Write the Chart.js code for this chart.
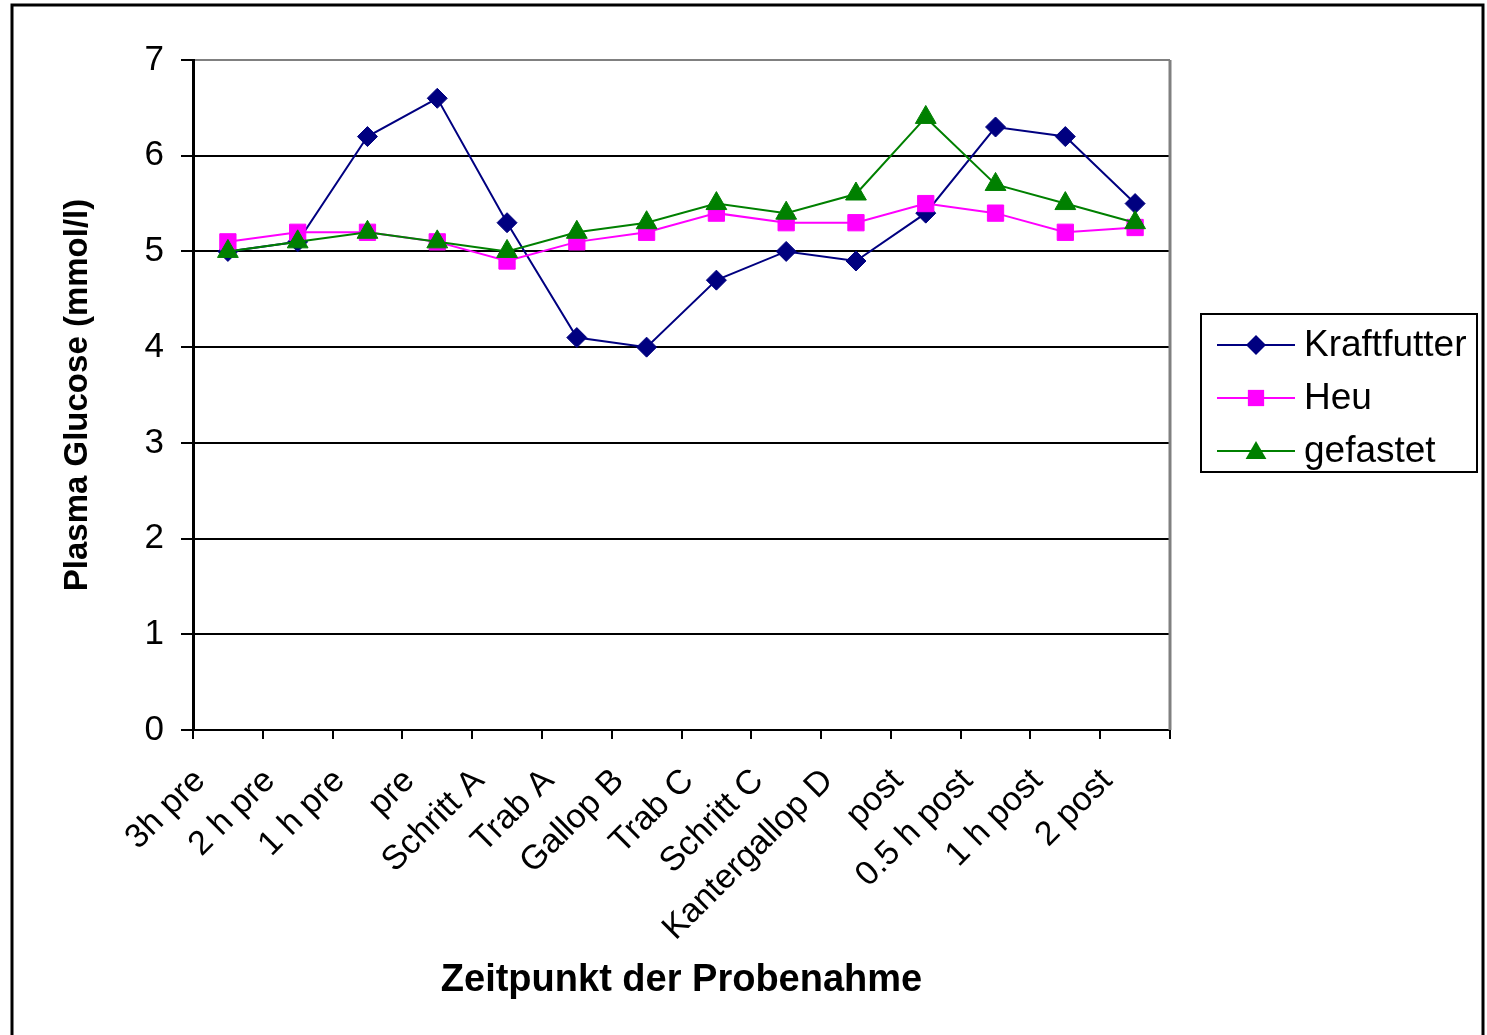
<!DOCTYPE html>
<html>
<head>
<meta charset="utf-8">
<title>Plasma Glucose</title>
<script src="https://cdn.jsdelivr.net/npm/chart.js@4.4.1/dist/chart.umd.min.js"></script>
<style>
  html, body { margin: 0; padding: 0; background: #fff; }
  #wrap { width: 1487px; height: 1035px; }
</style>
</head>
<body>
<div id="wrap"><canvas id="glucoseChart" width="1487" height="1035"></canvas></div>
<script>
//--- Daten
var categories = ['3h pre', '2 h pre', '1 h pre', 'pre', 'Schritt A', 'Trab A', 'Gallop B',
    'Trab C', 'Schritt C', 'Kantergallop D', 'post', '0.5 h post', '1 h post', '2 post'];
var kraftfutter = [5.0, 5.1, 6.2, 6.6, 5.3, 4.1, 4.0, 4.7, 5.0, 4.9, 5.4, 6.3, 6.2, 5.5];
var heu = [5.1, 5.2, 5.2, 5.1, 4.9, 5.1, 5.2, 5.4, 5.3, 5.3, 5.5, 5.4, 5.2, 5.25];
var gefastet = [5.0, 5.1, 5.2, 5.1, 5.0, 5.2, 5.3, 5.5, 5.4, 5.6, 6.4, 5.7, 5.5, 5.3];
var yTicks = [0, 1, 2, 3, 4, 5, 6, 7];
var seriesNames = ['Kraftfutter', 'Heu', 'gefastet'];

var FONT = '"Liberation Sans", Arial, Helvetica, sans-serif';

// Marker zeichnen (für die eigene Legende)
function drawMarker(ctx, style, x, y, r, color) {
    ctx.save();
    ctx.fillStyle = color;
    ctx.beginPath();
    if (style === 'rectRot') {
        ctx.moveTo(x, y - r);
        ctx.lineTo(x + r, y);
        ctx.lineTo(x, y + r);
        ctx.lineTo(x - r, y);
    } else if (style === 'rect') {
        var s = r * Math.SQRT1_2;
        ctx.rect(x - s, y - s, 2 * s, 2 * s);
    } else {
        ctx.moveTo(x, y - r);
        ctx.lineTo(x + r * 0.866, y + r * 0.5);
        ctx.lineTo(x - r * 0.866, y + r * 0.5);
    }
    ctx.closePath();
    ctx.fill();
    ctx.restore();
}

// Rahmen, Plotrand und Legende
var framePlugin = {
    id: 'frame',
    beforeDatasetsDraw: function (chart) {
        var ctx = chart.ctx, a = chart.chartArea;
        ctx.save();
        ctx.strokeStyle = '#808080';
        ctx.lineWidth = 3;
        ctx.beginPath();
        ctx.moveTo(a.right, a.top);
        ctx.lineTo(a.right, a.bottom);
        ctx.stroke();
        ctx.restore();
    },
    afterDraw: function (chart) {
        var ctx = chart.ctx;
        ctx.save();
        // äußerer Rahmen
        ctx.strokeStyle = '#000';
        ctx.lineWidth = 3;
        ctx.strokeRect(12, 5, 1471, 1045);
        // Legende
        ctx.lineWidth = 2;
        ctx.strokeRect(1201, 314, 276, 158);
        var rows = [345, 398, 451];
        chart.data.datasets.forEach(function (ds, i) {
            var y = rows[i];
            ctx.strokeStyle = ds.borderColor;
            ctx.lineWidth = 2;
            ctx.beginPath();
            ctx.moveTo(1217, y);
            ctx.lineTo(1295, y);
            ctx.stroke();
            drawMarker(ctx, ds.pointStyle, 1256, y + (ds.pointStyle === 'triangle' ? 2 : 0), ds.pointRadius, ds.pointBackgroundColor);
            ctx.fillStyle = '#000';
            ctx.font = '37px ' + FONT;
            ctx.textBaseline = 'middle';
            ctx.textAlign = 'left';
            ctx.fillText(ds.label, 1304, y + 1);
        });
        ctx.restore();
    }
};

function makeDataset(name, values, color, style, radius) {
    return {
        label: name,
        data: values,
        borderColor: color,
        backgroundColor: color,
        pointBackgroundColor: color,
        pointBorderColor: color,
        pointBorderWidth: 1,
        pointStyle: style,
        pointRadius: radius,
        pointHoverRadius: radius,
        borderWidth: 2,
        tension: 0,
        fill: false
    };
}

var ds1 = makeDataset(seriesNames[0], kraftfutter, '#000080', 'rectRot', 10);
var ds2 = makeDataset(seriesNames[1], heu, '#FF00FF', 'rect', 11.5);
var ds3 = makeDataset(seriesNames[2], gefastet, '#008000', 'triangle', 12);
ds1.order = 3; ds2.order = 2; ds3.order = 1;

var ctx = document.getElementById('glucoseChart').getContext('2d');
var glucoseChart = new Chart(ctx, {
    type: 'line',
    data: { labels: categories, datasets: [ds1, ds2, ds3] },
    plugins: [framePlugin],
    options: {
        responsive: false,
        animation: false,
        devicePixelRatio: 1,
        layout: { padding: { left: 58, right: 317, top: 60, bottom: 32 } },
        plugins: {
            legend: { display: false },
            tooltip: { enabled: false }
        },
        scales: {
            x: {
                offset: true,
                grid: {
                    offset: true,
                    drawOnChartArea: false,
                    drawTicks: true,
                    tickLength: 9,
                    color: '#000',
                    lineWidth: 2
                },
                border: { color: '#000', width: 2 },
                ticks: {
                    autoSkip: false,
                    minRotation: 45,
                    maxRotation: 45,
                    padding: 22,
                    labelOffset: -28,
                    color: '#000',
                    font: { family: FONT, size: 34 }
                },
                title: {
                    display: true,
                    text: 'Zeitpunkt der Probenahme',
                    color: '#000',
                    padding: 0,
                    font: { family: FONT, size: 38, weight: 'bold' }
                },
                afterFit: function (scale) { scale.height = 1035 - 730 - 32; }
            },
            y: {
                min: 0,
                max: 7,
                afterBuildTicks: function (scale) {
                    scale.ticks = yTicks.map(function (v) { return { value: v }; });
                },
                grid: {
                    color: function (c) { return c.tick && c.tick.value === 7 ? '#808080' : '#000'; },
                    tickColor: '#000',
                    lineWidth: 2,
                    tickLength: 12
                },
                border: { color: '#000', width: 3 },
                ticks: {
                    padding: 17,
                    color: '#000',
                    font: { family: FONT, size: 35 }
                },
                title: {
                    display: true,
                    text: 'Plasma Glucose (mmol/l)',
                    color: '#000',
                    padding: 0,
                    font: { family: FONT, size: 33, weight: 'bold' }
                },
                afterFit: function (scale) { scale.width = 193 - 58; }
            }
        }
    }
});
</script>
</body>
</html>
